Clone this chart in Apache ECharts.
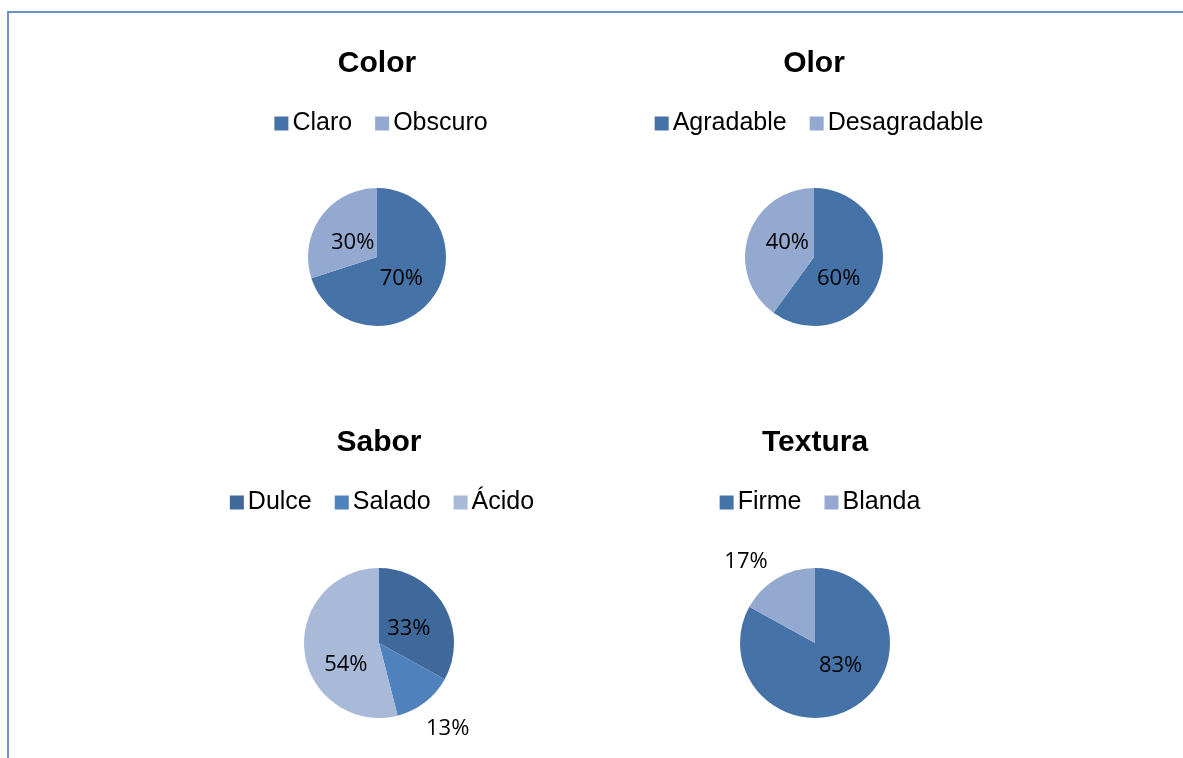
<!DOCTYPE html>
<html>
<head>
<meta charset="utf-8">
<script src="https://cdn.jsdelivr.net/npm/echarts@6/dist/echarts.min.js"></script>
<style>
html,body{margin:0;padding:0;background:#fff;width:1183px;height:758px;overflow:hidden;}
#frame{position:absolute;left:7px;top:11px;width:1180px;height:750px;border-left:2px solid #6a93cc;border-top:2px solid #6a93cc;}
.cell{position:absolute;width:440px;height:379px;}
</style>
</head>
<body>
<div id="frame"></div>
<div id="c1" class="cell" style="left:161px;top:0px;"></div>
<div id="c2" class="cell" style="left:599px;top:0px;"></div>
<div id="c3" class="cell" style="left:162px;top:379px;"></div>
<div id="c4" class="cell" style="left:600px;top:379px;"></div>
<script>
// ---- data ----
const colorTitle = 'Color';
const colorCats = ['Claro', 'Obscuro'];
const colorVals = [70, 30];

const olorTitle = 'Olor';
const olorCats = ['Agradable', 'Desagradable'];
const olorVals = [60, 40];

const saborTitle = 'Sabor';
const saborCats = ['Dulce', 'Salado', 'Ácido'];
const saborVals = [33, 13, 54];

const texturaTitle = 'Textura';
const texturaCats = ['Firme', 'Blanda'];
const texturaVals = [83, 17];

// ---- styles ----
const twoColors = ['#4573a7', '#94a9cf'];
const threeColors = ['#40699b', '#4f81bd', '#a9b9d8'];

function build(el, title, cats, vals, colors, cx, cy, r, outsideIdx, shifts) {
  const chart = echarts.init(document.getElementById(el), null, {renderer: 'canvas'});
  const data = cats.map((c, i) => {
    const d = {name: c, value: vals[i]};
    if (outsideIdx.indexOf(i) >= 0) {
      d.label = {position: 'outside'};
      d.labelLine = {show: false};
    }
    return d;
  });
  chart.setOption({
    animation: false,
    color: colors,
    title: {
      text: title,
      left: cx,
      textAlign: 'center',
      top: 49,
      padding: 0,
      textStyle: {fontFamily: 'Liberation Sans', fontWeight: 'bold', fontSize: 30, color: '#000'}
    },
    legend: {
      left: 'center',
      top: 111,
      padding: 0,
      itemWidth: 14,
      itemHeight: 14,
      itemGap: 23,
      icon: 'rect',
      data: cats,
      textStyle: {fontFamily: 'Liberation Sans', fontSize: 25, color: '#000', padding: [0, 0, 0, -1]}
    },
    series: [{
      type: 'pie',
      center: [cx, cy],
      radius: r,
      startAngle: 90,
      clockwise: true,
      data: data,
      label: {
        show: true,
        position: 'inside',
        formatter: '{c}%',
        fontFamily: 'Open Sans',
        fontSize: 22,
        color: '#000'
      },
      labelLine: {show: false, length: 18, length2: 0},
      labelLayout: function (p) {
        const s = shifts[p.dataIndex] || [0, 0];
        return {dx: s[0], dy: s[1]};
      },
      itemStyle: {borderWidth: 0},
      emphasis: {disabled: true}
    }]
  });
}

build('c1', colorTitle, colorCats, colorVals, twoColors, 216, 257, 69, [], [[-6, 0], [6, 8]]);
build('c2', olorTitle, olorCats, olorVals, twoColors, 215, 257, 69, [], [[-11, 10], [9, -3]]);
build('c3', saborTitle, saborCats, saborVals, threeColors, 217, 264, 75, [1], [[-5, 6], [-15, 12], [7, 17]]);
build('c4', texturaTitle, texturaCats, texturaVals, twoColors, 215, 264, 75, [1], [[5, -12], [5, -1]]);
</script>
</body>
</html>
